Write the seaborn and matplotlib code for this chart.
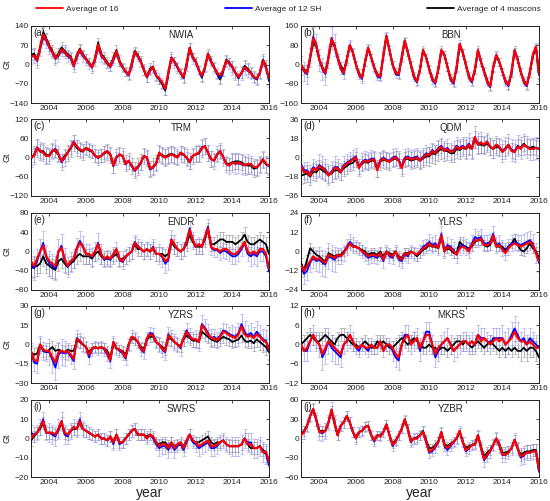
import matplotlib
matplotlib.use("Agg")
import matplotlib.pyplot as plt
import seaborn as sns
import numpy as np
from matplotlib.lines import Line2D

# bimonthly samples, 2003.0 .. 2016.0
t = 2003 + np.arange(79) / 6.0

# (a) NWIA
red_a = [30, 32, 15, 60, 108, 90, 65, 45, 22, 35, 55, 45, 33, 27, -5, 30, 55, 35,
         20, 5, -10, 20, 72, 35, 20, 5, -8, 20, 48, 10, -10, -25, -38, 0, 48, 30,
         10, -20, -45, -20, -10, -40, -50, -65, -88, -30, 25, 10, -10, -30, -46, 0, 60, 25,
         10, -20, -40, -10, 38, 10, -10, -30, -40, -20, 15, 5, -10, -30, -45, -30, -10, -20,
         -30, -45, -50, -30, 15, -10, -50]
blue_a = [28, 30, 12, 55, 100, 85, 60, 42, 20, 30, 50, 42, 30, 22, -8, 25, 50, 30,
          18, 2, -12, 15, 65, 30, 18, 2, -10, 15, 42, 8, -12, -28, -40, -5, 45, 28,
          8, -22, -48, -22, -15, -42, -52, -68, -90, -35, 25, 8, -12, -32, -48, -3, 58, 22,
          8, -22, -45, -12, 35, 8, -12, -33, -48, -22, 12, 2, -12, -32, -48, -32, -12, -22,
          -32, -48, -52, -32, 12, -12, -55]
black_a = [35, 40, 20, 65, 118, 95, 70, 50, 25, 40, 62, 50, 38, 30, 0, 35, 58, 38,
           22, 8, -8, 25, 80, 40, 25, 8, -5, 25, 52, 15, -8, -25, -38, 5, 50, 35,
           12, -18, -45, -15, -8, -40, -55, -72, -95, -35, 25, 12, -8, -30, -50, 5, 62, 28,
           12, -20, -48, -10, 40, 15, -8, -35, -55, -25, 18, 8, -8, -30, -50, -30, -5, -15,
           -28, -45, -55, -30, 18, -5, -60]
errb_a = [25, 20, 20, 20, 15, 15, 15, 20, 20, 15, 20, 25, 20]
errk_a = [20, 20, 15, 15, 20, 15, 20, 15, 15, 15, 15, 20, 20]

# (b) BBN
red_b = [0, -25, -35, 30, 110, 80, 20, -15, -35, 30, 105, 80, 30, -15, -35, 20, 80, 50,
         0, -40, -55, 10, 70, 30, -15, -45, -50, 40, 120, 60, 0, -35, -40, 30, 100, 50,
         0, -50, -70, -20, 60, 30, -20, -60, -75, -20, 60, 40, -10, -60, -75, -10, 85, 50,
         0, -50, -70, -20, 60, 10, -30, -70, -90, -10, 40, 10, -30, -70, -85, -30, 60, 20,
         -30, -70, -85, -30, 40, 75, -40]
blue_b = [-5, -30, -40, 30, 115, 85, 20, -20, -40, 30, 110, 80, 25, -20, -40, 20, 80, 50,
          0, -45, -60, 10, 70, 30, -15, -50, -55, 40, 120, 60, 0, -40, -45, 30, 100, 50,
          0, -55, -75, -20, 60, 30, -20, -65, -80, -20, 60, 40, -10, -65, -80, -10, 85, 50,
          0, -55, -75, -20, 60, 10, -30, -75, -95, -10, 40, 10, -30, -75, -90, -30, 60, 20,
          -30, -75, -90, -30, 40, 75, -45]
black_b = [0, -20, -30, 25, 90, 75, 20, -10, -30, 25, 95, 75, 30, -5, -25, 20, 80, 50,
           0, -35, -55, 10, 65, 30, -10, -40, -50, 35, 115, 60, 0, -30, -40, 25, 95, 50,
           0, -45, -70, -20, 55, 30, -15, -55, -75, -20, 55, 40, -10, -55, -75, -15, 75, 50,
           0, -45, -70, -25, 55, 10, -25, -65, -90, -15, 35, 10, -30, -65, -85, -35, 55, 20,
           -30, -65, -85, -35, 35, 70, -40]
errb_b = [40, 45, 20, 15, 15, 15, 15, 15, 15, 15, 15, 15, 15]
errk_b = [20, 20, 15, 15, 15, 15, 15, 15, 15, 15, 15, 15, 15]

# (c) TRM
red_c = [0, 5, 30, 20, 15, 5, 5, 20, 25, 10, -12, 0, 15, 30, 48, 35, 25, 20,
         30, 25, 20, 5, 0, 5, 15, 20, 10, -25, 0, 10, 5, -20, -10, -25, -40, -30,
         -15, 5, 0, -35, -30, -20, 15, 5, 0, 5, 10, 5, 0, 15, 10, 0, -15, 5,
         10, 15, 30, 35, 15, -5, -10, 10, 20, 0, -20, -25, -15, -20, -15, -20, -25, -20,
         -20, -30, -30, -20, -5, -20, -25]
blue_c = [2, 5, 32, 22, 15, 5, 5, 20, 28, 12, -15, -2, 15, 30, 50, 35, 25, 22,
          30, 25, 20, 5, -2, 5, 15, 20, 10, -28, -2, 10, 5, -22, -10, -28, -42, -32,
          -18, 5, 0, -38, -32, -20, 15, 5, 0, 5, 10, 5, 0, 15, 10, -2, -15, 5,
          10, 15, 32, 35, 15, -5, -10, 10, 20, 0, -20, -25, -15, -20, -18, -22, -25, -20,
          -20, -30, -30, -20, -5, -20, -28]
black_c = [-5, 10, 28, 18, 20, 8, 8, 22, 20, 8, -10, 5, 15, 28, 45, 30, 22, 18,
           28, 22, 18, 5, 2, 5, 12, 18, 8, -22, 2, 8, 5, -18, -12, -25, -38, -28,
           -15, 5, -2, -35, -28, -18, 12, 8, 2, 8, 12, 8, 2, 12, 8, 0, -12, 5,
           10, 12, 28, 35, 15, -5, -8, 8, 18, 2, -18, -20, -15, -12, -12, -15, -22, -25,
           -25, -35, -32, -22, -8, -22, -25]
errb_c = [25, 25, 20, 20, 20, 15, 20, 25, 20, 25, 25, 30, 25]
errk_c = [25, 20, 25, 20, 25, 25, 25, 25, 25, 25, 20, 25, 25]

# (d) QDM
red_d = [-8, -14, -13, -17, -10, -12, -8, -10, -12, -17, -14, -10, -10, -14, -8, -6, -4, -2,
         0, -10, -5, -3, -4, -2, -2, -12, -3, -1, -3, -4, -1, 0, -3, -10, -1, 0,
         -2, -1, 0, -3, 0, 3, 2, 6, 4, 8, 10, 6, 8, 5, 6, 10, 8, 10,
         8, 12, 8, 19, 12, 14, 12, 15, 10, 8, 12, 10, 5, 8, 12, 6, 5, 10,
         8, 12, 10, 8, 8, 9, 8]
blue_d = [-6, -12, -12, -15, -9, -11, -7, -9, -11, -16, -13, -9, -9, -13, -7, -5, -3, -1,
          1, -9, -4, -2, -3, -1, -1, -11, -2, 0, -2, -3, 0, 1, -2, -9, 0, 1,
          -1, 0, 1, -2, 1, 4, 3, 7, 5, 9, 11, 7, 9, 6, 7, 11, 9, 11,
          9, 13, 9, 19, 13, 14, 12, 15, 10, 8, 12, 10, 6, 9, 12, 7, 6, 11,
          9, 12, 10, 8, 8, 9, 8]
black_d = [-17, -16, -15, -18, -13, -14, -10, -12, -14, -16, -15, -12, -12, -14, -10, -8, -6, -5,
           -2, -8, -6, -4, -5, -3, -3, -10, -4, -2, -3, -4, -2, -1, -3, -8, -2, -1,
           -3, -2, -1, -3, -1, 1, 1, 4, 3, 6, 8, 6, 6, 4, 4, 8, 7, 9,
           8, 10, 8, 17, 12, 12, 11, 13, 10, 8, 10, 9, 6, 8, 11, 7, 6, 10,
           9, 13, 10, 9, 10, 9, 8]
errb_d = [8, 10, 8, 8, 7, 8, 8, 7, 8, 10, 8, 10, 10]
errk_d = [8, 8, 7, 7, 8, 7, 8, 9, 8, 8, 8, 7, 7]

# (e) ENDR
red_e = [-20, -30, -15, 0, 12, -10, -20, -25, -30, 0, 8, -15, -30, -20, -15, 5, 18, 10,
         -5, -5, -10, 0, 15, -5, -15, -10, -15, -5, 5, -15, -20, -10, -5, 0, 18, 10,
         5, 0, 5, 0, 8, -5, -5, -10, -20, -15, 25, 15, 5, 0, 5, 20, 45, 25,
         10, 15, 10, 30, 48, 10, 5, 5, 0, 5, 5, 0, -5, -5, 0, 10, 20, 0,
         -5, 0, -5, 5, 5, -5, -35]
blue_e = [-25, -35, -20, 0, 18, -12, -25, -30, -35, 0, 12, -18, -32, -22, -15, 8, 22, 12,
          -5, -5, -12, 0, 18, -5, -18, -12, -18, -5, 5, -18, -22, -12, -5, 0, 20, 12,
          5, 0, 5, 0, 10, -5, -5, -12, -25, -18, 25, 15, 5, 0, 5, 22, 48, 25,
          10, 15, 10, 30, 52, 8, 3, 3, -3, 2, 0, -5, -10, -10, -5, 5, 18, -5,
          -10, -5, -10, 0, 0, -10, -42]
black_e = [-35, -32, -30, -25, -10, -25, -30, -35, -38, -20, -15, -25, -32, -25, -20, -10, -5, -10,
           -10, -10, -15, -5, 0, -10, -15, -15, -15, -10, -5, -15, -15, -10, -5, 0, 15, 5,
           5, 0, 5, 0, 5, -5, -5, -5, -10, -5, 20, 10, 5, 0, 5, 15, 35, 20,
           10, 10, 10, 25, 45, 15, 15, 20, 25, 25, 20, 20, 20, 15, 20, 25, 35, 20,
           15, 15, 20, 25, 20, 15, -5]
errb_e = [25, 25, 20, 20, 15, 15, 15, 20, 15, 15, 15, 15, 20]
errk_e = [20, 20, 15, 15, 15, 15, 15, 15, 15, 15, 15, 15, 15]

# (f) YLRS
red_f = [-9, -12, -9, -6, -3, -5, -4, -6, -7, -2, -3, -4, -2, -3, -1, 2, 5, 3,
         3, 2, 0, -1, -3, -2, -2, -3, -1, -5, 0, -2, -3, 0, -4, -5, -1, -2,
         0, -1, -2, 0, 2, 3, 5, 3, 4, 2, 10, 0, 3, 2, 0, -2, 2, 3,
         2, 0, 4, 7, 7, 8, 4, 4, 5, 10, 3, 4, 1, -1, 2, 4, 5, 4,
         3, 4, 5, 6, 4, -1, -6]
blue_f = [-10, -14, -12, -7, -4, -6, -5, -7, -8, -3, -4, -5, -3, -3, -1, 3, 6, 4,
          3, 2, 0, -2, -4, -3, -3, -4, -2, -6, 0, -3, -4, 0, -5, -6, -2, -3,
          0, -1, -2, 0, 3, 4, 6, 4, 5, 3, 11, 1, 4, 3, 1, -2, 3, 4,
          3, 1, 5, 9, 8, 9, 5, 5, 6, 11, 4, 5, 2, 0, 3, 5, 6, 5,
          4, 5, 6, 7, 5, -1, -7]
black_f = [-7, -12, -5, 2, 0, -2, -3, -5, -6, -1, -2, -3, -2, -2, 0, 2, 5, 3,
           3, 2, 1, 0, -2, -1, -1, -2, 0, -3, 0, -1, -2, 0, -3, -4, -1, -1,
           0, -1, -3, -1, 1, 2, 4, 3, 3, 2, 9, 0, 2, 1, -1, -1, 6, 4,
           3, 2, 3, 6, 7, 7, 4, 3, 4, 9, 3, 3, 3, 1, 3, 5, 8, 4,
           1, 0, 2, 5, 2, 0, -4]
errb_f = [6, 8, 5, 4, 4, 4, 4, 5, 5, 5, 5, 5, 6]
errk_f = [3, 3, 3, 3, 3, 3, 3, 3, 3, 3, 3, 3, 3]

# (g) YZRS
red_g = [-5, -12, -13, 0, -4, -5, -5, -10, -14, -6, -5, -6, -5, -8, -11, 4, 3, 0,
         -2, -8, -3, -2, -3, -2, -3, -7, -12, 2, -3, -4, -6, -10, 0, 6, 5, 2,
         -3, -5, 5, 8, 7, 2, 0, -3, -5, 7, 5, 2, 0, -2, 5, 10, 6, 4,
         4, 2, 15, 12, 8, 5, 5, 3, 6, 10, 9, 7, 6, 5, 8, 14, 8, 6,
         7, 5, 8, 6, 3, 2, -4]
blue_g = [-6, -14, -15, 0, -5, -6, -6, -12, -18, -8, -6, -7, -6, -9, -13, 5, 3, 0,
          -2, -10, -4, -2, -3, -2, -4, -8, -13, 2, -3, -5, -7, -11, 0, 6, 5, 2,
          -4, -6, 5, 9, 8, 2, 0, -4, -6, 8, 5, 2, 0, -3, 5, 11, 7, 4,
          4, 2, 16, 13, 9, 5, 6, 4, 7, 11, 10, 8, 7, 6, 9, 16, 10, 7,
          9, 6, 10, 7, 4, 3, -3]
black_g = [-6, -8, -7, 0, -5, -6, -4, -2, -5, -4, -5, -6, -4, -5, -5, 3, 2, 0,
           -2, -6, -3, -2, -3, -2, -3, -5, -10, 1, -3, -4, -5, -8, 0, 5, 4, 2,
           -2, -3, 4, 6, 6, 2, 0, -2, -3, 5, 4, 2, 0, -1, 4, 7, 5, 3,
           3, 2, 10, 8, 6, 4, 3, 2, 4, 6, 5, 4, 2, 3, 4, 7, 3, 2,
           3, 1, 4, 2, 0, -2, -6]
errb_g = [7, 10, 6, 5, 5, 5, 5, 6, 6, 7, 6, 8, 8]
errk_g = [5, 5, 5, 4, 4, 4, 4, 5, 5, 5, 5, 5, 6]

# (h) MKRS
red_h = [0, -2, -1, 1, 3, 1, 0, -3, -1, 1, 0, -1, -2, -3, 0, 1, 3, 1,
         -1, -1, 0, -1, -1, 0, -1, -1, 1, -2, 0, 0, -1, -3, -4, 0, 2, 3,
         0, 1, 2, -1, 1, 3, 3, 0, -3, -1, 0, 1, 2, 0, -2, -1, 0, 1,
         1, 0, 1, 0, 3, 1, 2, 1, 0, 1, 2, 1, 2, 0, 1, 2, 4, 2,
         1, 1, 0, 1, 0, -1, -1]
blue_h = [0, -2, -2, 1, 3, 1, 0, -4, -2, 1, -1, -2, -3, -4, 0, 1, 3, 1,
          -1, -2, 0, -1, -2, 0, -1, -1, 1, -2, 0, 0, -2, -4, -5, 0, 3, 3,
          0, 1, 2, -2, 1, 4, 4, 0, -4, -2, 0, 1, 2, 0, -2, -1, 0, 1,
          1, 0, 1, 0, 3, 2, 2, 1, 0, 2, 2, 2, 2, 0, 1, 3, 5, 3,
          1, 2, 0, 2, 1, 0, -1]
black_h = [0, 1, 2, 3, 2, 1, 1, 2, 3, 2, 1, 0, 2, 3, 3, 2, 1, 0,
           0, -1, 0, 1, 0, -1, -1, 1, 0, 1, 0, -1, -1, 0, 1, 2, 1, 0,
           1, 2, 1, 0, -1, -1, 0, -1, -1, -2, -1, -1, -2, -1, 0, 1, 1, 0,
           1, 0, -1, 0, 1, 0, -1, 0, 1, 0, -1, -2, -1, -2, -1, -2, -1, -2,
           -2, -1, -2, -1, -1, -2, -4]
errb_h = [3, 4, 3, 2, 2, 3, 3, 3, 3, 3, 3, 4, 3]
errk_h = [2, 2, 2, 2, 2, 2, 2, 2, 2, 2, 2, 2, 3]

# (i) SWRS
red_i = [0, 2, 3, 6, 9, 3, 3, 3, 2, 5, 9, 3, 2, 4, 6, 5, 9, 5,
         4, 3, 2, 1, 2, 0, 0, -1, 1, -2, 2, -2, -2, 0, 2, 4, 5, 2,
         2, 2, 0, 2, 1, -2, -4, -3, -3, -5, -2, -5, -3, -2, -5, -1, 2, -1,
         -2, -4, -3, -2, -1, -4, -4, -3, -2, -1, -3, -4, -4, -4, -4, -3, 0, -3,
         -3, -5, -5, -4, -7, -7, -12]
blue_i = [3, 2, 3, 6, 10, 3, 3, 2, 1, 5, 9, 2, 1, 4, 6, 5, 10, 5,
          4, 3, 2, 1, 2, 0, 0, -1, 1, -3, 2, -3, -2, 0, 2, 4, 5, 2,
          2, 2, 0, 2, 0, -3, -5, -4, -4, -6, -3, -6, -4, -3, -6, -2, 2, -2,
          -3, -5, -4, -3, -2, -5, -5, -4, -2, -1, -3, -4, -4, -4, -4, -3, 0, -2,
          -2, -5, -5, -4, -7, -8, -14]
black_i = [-1, 1, 3, 5, 8, 3, 3, 3, 2, 4, 8, 3, 2, 4, 5, 5, 8, 5,
           4, 3, 2, 1, 2, 0, 0, -1, 1, -2, 2, -2, -2, 0, 2, 4, 5, 2,
           2, 2, 1, 2, 1, -2, -3, -2, -2, -4, -2, -4, -3, -2, -4, -1, 2, -1,
           -2, -2, -1, 0, 1, -2, -3, -2, -2, -1, -3, -4, -4, -4, -4, -3, 0, -3,
           -5, -5, -5, -4, -6, -7, -12]
errb_i = [4, 5, 4, 3, 3, 3, 3, 4, 3, 4, 4, 5, 5]
errk_i = [3, 3, 3, 3, 3, 3, 3, 3, 3, 3, 3, 3, 3]

# (j) YZBR
red_j = [5, 10, 20, 35, 46, 30, 10, 10, 12, 25, 45, 25, 5, 20, 25, 35, 25, 10,
         0, 10, 12, 18, 20, 5, -3, 5, 3, 10, 22, 5, -10, -5, 5, 15, 30, 15,
         -5, 0, 0, 5, 10, -5, -20, -18, -12, -5, 10, -10, -15, -10, -5, 0, 12, -5,
         -18, -15, -10, -10, 5, -15, -32, -25, -20, -10, 0, -10, -25, -25, -22, -15, -2, -15,
         -28, -25, -22, -22, -20, -20, -50]
blue_j = [5, 10, 20, 35, 46, 30, 10, 8, 12, 25, 45, 25, 5, 20, 25, 35, 25, 10,
          0, 10, 12, 18, 20, 5, -5, 5, 3, 10, 22, 5, -12, -5, 5, 15, 30, 15,
          -6, 0, 0, 5, 10, -6, -22, -20, -14, -6, 10, -12, -18, -12, -6, 0, 12, -6,
          -20, -16, -10, -10, 5, -16, -34, -27, -20, -10, 0, -12, -26, -26, -22, -15, -2, -16,
          -30, -27, -22, -22, -20, -20, -52]
black_j = [7, 12, 20, 35, 45, 28, 12, 12, 12, 25, 42, 22, 5, 20, 25, 35, 25, 10,
           2, 10, 12, 18, 20, 5, -2, 5, 5, 10, 22, 5, -8, -3, 5, 15, 28, 15,
           -3, 0, 2, 5, 12, -2, -15, -15, -10, -5, 10, -8, -12, -8, -5, 0, 10, -5,
           -15, -12, -10, -8, 5, -12, -28, -22, -18, -10, 0, -8, -22, -22, -20, -15, -2, -15,
           -25, -22, -20, -20, -18, -18, -50]
errb_j = [10, 12, 8, 8, 7, 7, 8, 8, 8, 8, 10, 10, 12]
errk_j = [8, 8, 8, 7, 7, 7, 7, 7, 7, 7, 8, 8, 10]

letters = ["(a)", "(b)", "(c)", "(d)", "(e)", "(f)", "(g)", "(h)", "(i)", "(j)"]
names = ["NWIA", "BBN", "TRM", "QDM", "ENDR", "YLRS", "YZRS", "MKRS", "SWRS", "YZBR"]
ylims = [140, 160, 120, 36, 80, 24, 30, 12, 20, 60]
xticks = [2004, 2006, 2008, 2010, 2012, 2014, 2016]

panels = [
    (red_a, blue_a, black_a, errb_a, errk_a),
    (red_b, blue_b, black_b, errb_b, errk_b),
    (red_c, blue_c, black_c, errb_c, errk_c),
    (red_d, blue_d, black_d, errb_d, errk_d),
    (red_e, blue_e, black_e, errb_e, errk_e),
    (red_f, blue_f, black_f, errb_f, errk_f),
    (red_g, blue_g, black_g, errb_g, errk_g),
    (red_h, blue_h, black_h, errb_h, errk_h),
    (red_i, blue_i, black_i, errb_i, errk_i),
    (red_j, blue_j, black_j, errb_j, errk_j),
]

sns.set_style("white")
plt.rcParams['font.family'] = ['Liberation Sans', 'DejaVu Sans']

fig = plt.figure(figsize=(5.5, 5.01), dpi=100)

W, H = 501.0, 550.0
lefts = [31, 301]
tops = [26, 119, 213, 306, 400]
aw, ah = 238, 77

year_idx = np.minimum((t - 2003).astype(int), 12)

for i, (red, blue, black, errb, errk) in enumerate(panels):
    row, col = i // 2, i % 2
    ax = fig.add_axes([lefts[col] / H, 1 - (tops[row] + ah) / W, aw / H, ah / W])

    eb = np.array(errb)[year_idx]
    ek = np.array(errk)[year_idx]
    ax.errorbar(t, black, yerr=ek, fmt='none', ecolor='#8c8c8c', elinewidth=0.7,
                capsize=1.2, capthick=0.6, alpha=0.6, zorder=1)
    ax.errorbar(t, blue, yerr=eb, fmt='none', ecolor='#8a8af5', elinewidth=0.7,
                capsize=1.2, capthick=0.6, alpha=0.55, zorder=1)

    sns.lineplot(x=t, y=black, ax=ax, color='black', lw=1.3, errorbar=None, zorder=3)
    sns.lineplot(x=t, y=blue, ax=ax, color='#0000ff', lw=1.3, errorbar=None, zorder=4)
    sns.lineplot(x=t, y=red, ax=ax, color='#ff0000', lw=1.6, errorbar=None, zorder=5)

    lim = ylims[i]
    ax.set_xlim(2003, 2016)
    ax.set_ylim(-lim, lim)
    ax.set_yticks(np.linspace(-lim, lim, 5))
    ax.set_xticks(xticks)
    ax.tick_params(direction='in', length=2.5, width=0.6, labelsize=6, pad=1.5,
                   top=True, right=True)
    for s in ax.spines.values():
        s.set_linewidth(0.7)
        s.set_color('#222222')

    ax.text(0.012, 0.97, letters[i], transform=ax.transAxes, fontsize=7,
            ha='left', va='top')
    ax.text(0.63, 0.95, names[i], transform=ax.transAxes, fontsize=7,
            ha='center', va='top')

    ax.set_xlabel('')
    if col == 0:
        ax.set_ylabel('Gt', fontsize=6.5)
        ax.yaxis.set_label_coords(-0.08, 0.5)
    else:
        ax.set_ylabel('')
    if row == 4:
        ax.set_xlabel('year', fontsize=10, labelpad=0)

handles = [Line2D([], [], color='#ff0000', lw=1.3),
           Line2D([], [], color='#0000ff', lw=1.3),
           Line2D([], [], color='black', lw=1.3)]
labels = ['Average of 16', 'Average of 12 SH', 'Average of 4 mascons']
fig.legend(handles, labels, loc='upper left', ncol=3, frameon=False, fontsize=6,
           bbox_to_anchor=(0.06, 0.962, 0.93, 0.035), mode='expand',
           handlelength=3.2, handletextpad=0.4, borderaxespad=0)

fig.savefig('out.png', dpi=100)
